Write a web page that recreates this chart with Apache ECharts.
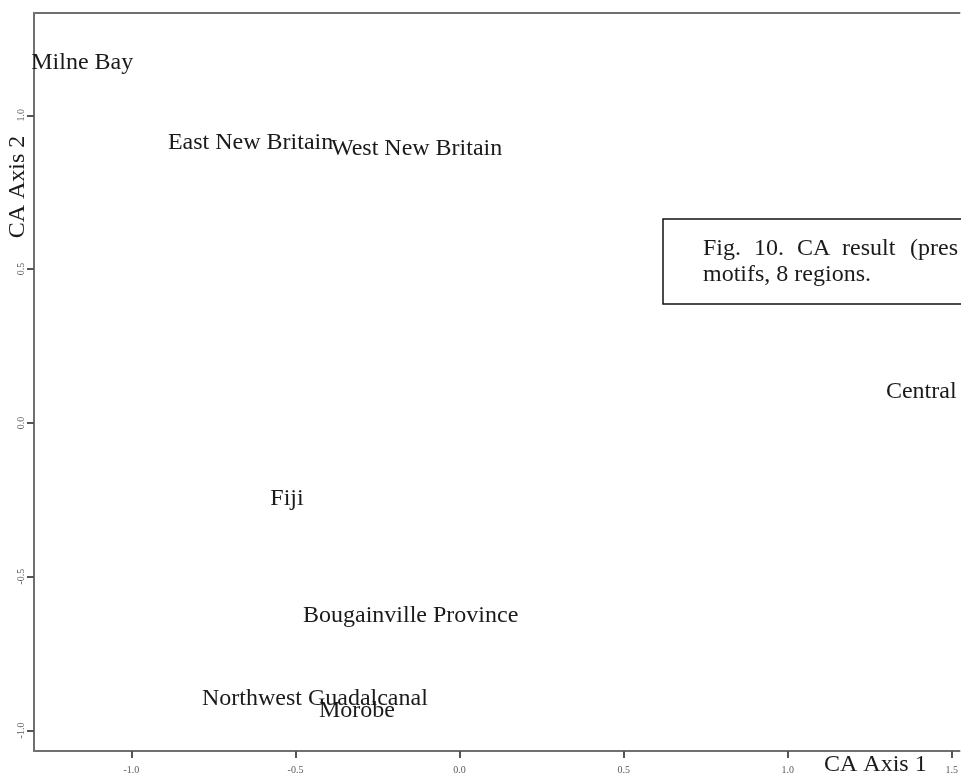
<!DOCTYPE html>
<html>
<head>
<meta charset="utf-8">
<title>CA result</title>
<script src="https://cdn.jsdelivr.net/npm/echarts@6/dist/echarts.min.js"></script>
<style>
  html, body { margin: 0; padding: 0; background: #fff; }
  #chart { width: 961px; height: 777px; }
</style>
</head>
<body>
<div id="chart"></div>
<script>
// Region scores on the first two correspondence-analysis axes
const regions = ['Milne Bay', 'East New Britain', 'West New Britain', 'Central', 'Fiji',
                 'Bougainville Province', 'Northwest Guadalcanal', 'Morobe'];
const axis1 = [-1.150, -0.637, -0.131, 1.407, -0.526, -0.149, -0.441, -0.313];
const axis2 = [1.170, 0.911, 0.890, 0.100, -0.247, -0.627, -0.897, -0.937];

// Tick positions on both axes
const xTicks = [-1.0, -0.5, 0.0, 0.5, 1.0, 1.5];
const yTicks = [-1.0, -0.5, 0.0, 0.5, 1.0];

// Caption text
const captionLine1 = ['Fig.', '10.', 'CA', 'result', '(pres'];
const captionLine2 = 'motifs, 8 regions.';

const SERIF = '"Liberation Serif", "Times New Roman", serif';
const INK = '#1a1a1a';

const points = regions.map((name, i) => ({ name: name, value: [axis1[i], axis2[i]] }));

const axisLineStyle = { color: '#707070', width: 2 };
const tickLabel = {
  fontFamily: SERIF, fontSize: 10, color: '#5a5a5a',
  formatter: v => Number(v).toFixed(1)
};

const X_MIN = -1.297, X_MAX = 1.5237;

const chart = echarts.init(document.getElementById('chart'), null, { renderer: 'canvas' });

// Justified first caption line: one text element per word
const wordX = [703, 754, 797, 842, 910];
const captionWords = captionLine1.map((w, i) => ({
  type: 'text', left: wordX[i], top: 237, z: 11,
  style: { text: w, font: '24px ' + SERIF, fill: INK }
}));

chart.setOption({
  animation: false,
  backgroundColor: '#ffffff',
  grid: { left: 34, top: 13, bottom: 26, right: 0, show: false },
  xAxis: [
    {
      type: 'value', min: X_MIN, max: X_MAX, position: 'bottom',
      axisLine: { show: true, onZero: false, lineStyle: axisLineStyle },
      axisTick: { show: true, customValues: xTicks, length: 7, lineStyle: { color: '#555', width: 2 } },
      axisLabel: Object.assign({ customValues: xTicks, margin: 14 }, tickLabel),
      splitLine: { show: false }
    },
    {
      // top frame line
      type: 'value', min: X_MIN, max: X_MAX, position: 'top',
      axisLine: { show: true, onZero: false, lineStyle: axisLineStyle },
      axisTick: { show: false }, axisLabel: { show: false }, splitLine: { show: false }
    }
  ],
  yAxis: {
    type: 'value', min: -1.0667, max: 1.3327,
    axisLine: { show: true, onZero: false, lineStyle: axisLineStyle },
    axisTick: { show: true, customValues: yTicks, length: 7, lineStyle: { color: '#555', width: 2 } },
    axisLabel: Object.assign({ customValues: yTicks, margin: 8, rotate: 90 }, tickLabel),
    splitLine: { show: false }
  },
  series: [{
    type: 'scatter',
    xAxisIndex: 0,
    data: points,
    symbolSize: 0,
    silent: true,
    itemStyle: { opacity: 1, color: INK },
    label: {
      show: true, position: 'inside', formatter: p => p.name,
      fontFamily: SERIF, fontSize: 24, color: INK,
      textBorderWidth: 0, opacity: 1
    },
    emphasis: { disabled: true },
    labelLayout: { hideOverlap: false }
  }],
  graphic: [
    {
      type: 'text', x: 18, y: 187, rotation: Math.PI / 2,
      style: { text: 'CA Axis 2', font: '24px ' + SERIF, fill: INK, align: 'center', verticalAlign: 'middle' }
    },
    {
      type: 'text', left: 824, top: 753,
      style: { text: 'CA Axis 1', font: '24px ' + SERIF, fill: INK }
    },
    {
      type: 'rect', z: 10,
      shape: { x: 663, y: 219, width: 400, height: 85 },
      style: { fill: '#ffffff', stroke: '#111111', lineWidth: 1.5 }
    },
    ...captionWords,
    {
      type: 'text', left: 703, top: 263, z: 11,
      style: { text: captionLine2, font: '24px ' + SERIF, fill: INK }
    }
  ]
});
</script>
</body>
</html>
